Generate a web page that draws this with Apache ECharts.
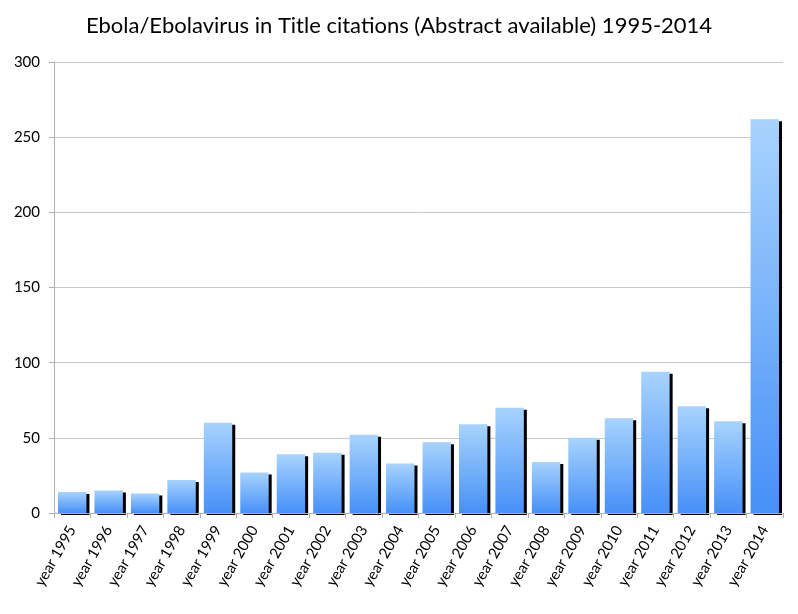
<!DOCTYPE html>
<html>
<head>
<meta charset="utf-8">
<script src="https://cdn.jsdelivr.net/npm/echarts@6/dist/echarts.min.js"></script>
<style>html,body{margin:0;padding:0;background:#fff;}#c{width:798px;height:614px;}</style>
</head>
<body>
<div id="c"></div>
<script>
var categories = ['year 1995','year 1996','year 1997','year 1998','year 1999','year 2000','year 2001','year 2002','year 2003','year 2004','year 2005','year 2006','year 2007','year 2008','year 2009','year 2010','year 2011','year 2012','year 2013','year 2014'];
var citations = [14,15,13,22,60,27,39,40,52,33,47,59,70,34,50,63,94,71,61,262];
var yTicks = [0,50,100,150,200,250,300];

var chart = echarts.init(document.getElementById('c'));
chart.setOption({
  animation: false,
  title: {
    text: 'Ebola/Ebolavirus in Title citations (Abstract available) 1995-2014',
    left: 'center', top: 10,
    textStyle: {fontFamily: 'Lato', fontWeight: 'normal', fontSize: 22, color: '#000'}
  },
  grid: {left: 54, right: 15, top: 62, bottom: 101},
  xAxis: {
    type: 'category',
    data: categories,
    z: 5,
    axisLine: {lineStyle: {color: '#b0b0b0'}},
    axisTick: {show: true, length: 5, lineStyle: {color: '#b0b0b0'}},
    axisLabel: {rotate: 60, fontFamily: 'Lato', fontSize: 15, color: '#000', margin: 14, interval: 0}
  },
  yAxis: {
    type: 'value',
    min: yTicks[0], max: yTicks[yTicks.length-1], interval: 50,
    axisLine: {show: true, lineStyle: {color: '#b0b0b0'}},
    axisTick: {show: true, length: 5, lineStyle: {color: '#b0b0b0'}},
    splitLine: {lineStyle: {color: '#c8c8c8'}},
    axisLabel: {fontFamily: 'Lato', fontSize: 15, color: '#000', margin: 14}
  },
  series: [{
    type: 'bar',
    data: citations,
    barCategoryGap: '22%',
    itemStyle: {
      color: new echarts.graphic.LinearGradient(0,0,0,1,[{offset:0,color:'#a8d3fd'},{offset:1,color:'#4690f8'}]),
      shadowColor: '#000',
      shadowBlur: 0,
      shadowOffsetX: 3,
      shadowOffsetY: 2
    }
  }]
});
</script>
</body>
</html>
